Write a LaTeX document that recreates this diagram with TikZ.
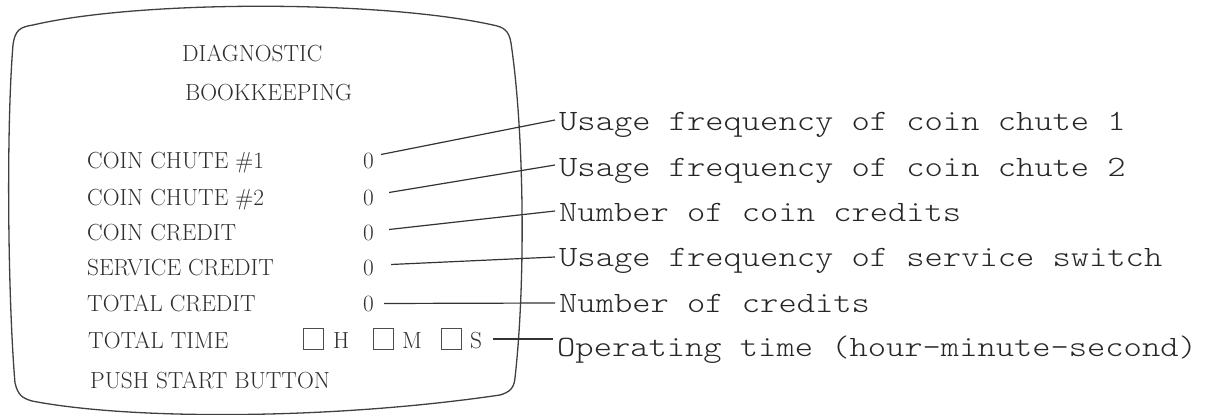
\documentclass[tikz,border=0pt]{standalone}
\usepackage{fontspec}
\newfontfamily\labfont{Latin Modern Mono Light}
\begin{document}
\begin{tikzpicture}[x=1pt,y=-1pt,
  scr/.style={font=\fontsize{23.3}{27}\selectfont, text=black!82, inner sep=0pt, anchor=base west},
  lab/.style={font=\labfont\fontsize{29.5}{34}\selectfont, text=black!85, inner sep=0pt, anchor=base west},
  conn/.style={line width=1.2pt, draw=black!80},
  outline/.style={line width=1.3pt, draw=black!75},
  tbox/.style={draw=black!70, line width=0.8pt, minimum width=20pt, minimum height=21pt, inner sep=0pt}]
\useasboundingbox (0,0) rectangle (1205,415);

% screen outline
\draw[outline] (33,25) .. controls (140,0) and (380,0) .. (493,25)
  .. controls (503,27) and (509,30) .. (511,43)
  .. controls (524,130) and (526,280) .. (515,378)
  .. controls (514,388) and (510,392) .. (500,395)
  .. controls (330,420) and (130,420) .. (32,401)
  .. controls (22,398) and (18,395) .. (15,383)
  .. controls (8,300) and (6,130) .. (13,45)
  .. controls (15,30) and (20,27) .. cycle;

% screen text
\node[scr] (t1) at (182,61) {DIAGNOSTIC};
\node[scr] (t2) at (185,100) {BOOKKEEPING};
\node[scr] (r1) at (87,168) {COIN CHUTE \#1};
\node[scr] (r2) at (87,205) {COIN CHUTE \#2};
\node[scr] (r3) at (87,240) {COIN CREDIT};
\node[scr] (r4) at (87,275) {SERVICE CREDIT};
\node[scr] (r5) at (87,311) {TOTAL CREDIT};
\node[scr] (r6) at (88,348) {TOTAL TIME};
\node[scr] (r7) at (90,388) {PUSH START BUTTON};

\node[scr] (z1) at (363,168) {0};
\node[scr] (z2) at (363,205) {0};
\node[scr] (z3) at (363,240) {0};
\node[scr] (z4) at (363,275) {0};
\node[scr] (z5) at (363,311) {0};

\node[tbox] (b1) at (313.5,339) {};
\node[scr] (hh) at (333,348) {H};
\node[tbox] (b2) at (383,339) {};
\node[scr] (mm) at (402,348) {M};
\node[tbox] (b3) at (451.5,339) {};
\node[scr] (ss) at (470,348) {S};

% labels
\node[lab] (l1) at (559,130) {\scalebox{1.18}[1]{Usage frequency of coin chute 1}};
\node[lab] (l2) at (559,176) {\scalebox{1.18}[1]{Usage frequency of coin chute 2}};
\node[lab] (l3) at (559,221) {\scalebox{1.18}[1]{Number of coin credits}};
\node[lab] (l4) at (559,266) {\scalebox{1.18}[1]{Usage frequency of service switch}};
\node[lab] (l5) at (559,312) {\scalebox{1.18}[1]{Number of credits}};
\node[lab] (l6) at (557,356) {\scalebox{1.18}[1]{Operating time (hour-minute-second)}};

% connectors
\draw[conn] ([xshift=7pt,yshift=6pt]z1.east) -- ([xshift=-4pt,yshift=10pt]l1.base west);
\draw[conn] ([xshift=15pt,yshift=5pt]z2.east) -- ([xshift=-4pt,yshift=11pt]l2.base west);
\draw[conn] ([xshift=15pt,yshift=3pt]z3.east) -- ([xshift=-4pt,yshift=10pt]l3.base west);
\draw[conn] ([xshift=17pt,yshift=3pt]z4.east) -- ([xshift=-4pt,yshift=9pt]l4.base west);
\draw[conn] ([xshift=10pt]z5.east) -- ([xshift=-4pt,yshift=9pt]l5.base west);
\coordinate (e6) at ([xshift=-4pt]l6.west);
\coordinate (s6) at ([xshift=11pt,yshift=1pt]ss.east);
\draw[conn] (s6) -- (s6 -| e6);
\end{tikzpicture}
\end{document}
